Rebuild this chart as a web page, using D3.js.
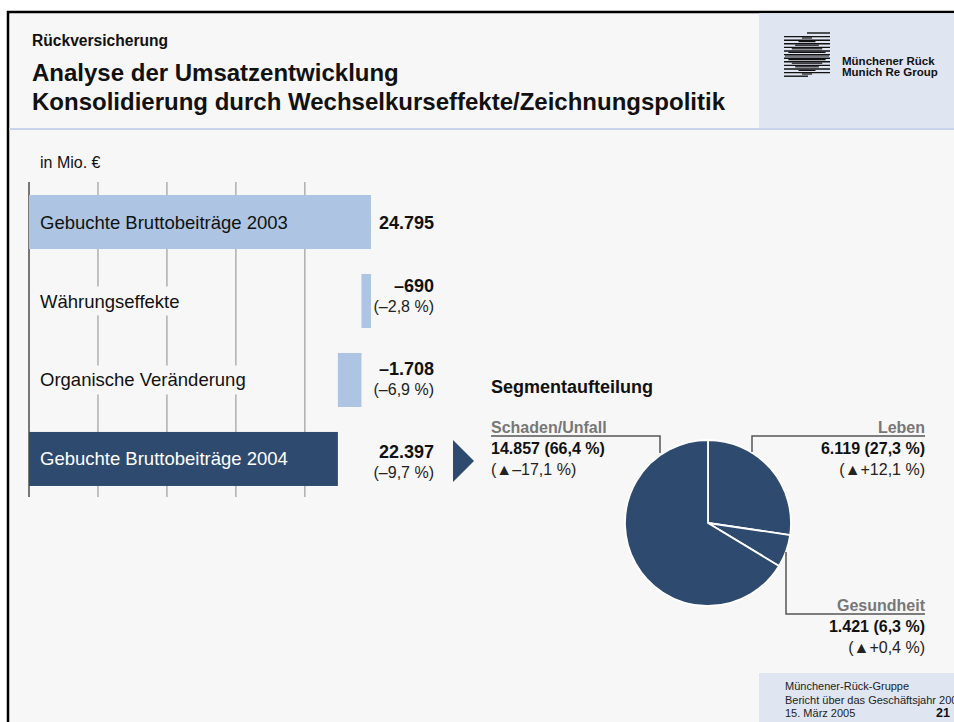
<!DOCTYPE html>
<html>
<head>
<meta charset="utf-8">
<script src="https://cdn.jsdelivr.net/npm/d3@7"></script>
<style>
  html, body { margin: 0; padding: 0; background: #fff; }
  svg { display: block; font-family: "Liberation Sans", Arial, sans-serif; }
</style>
</head>
<body>
<script>
// waterfall data (in Mio. EUR)
var categories = ["Gebuchte Bruttobeiträge 2003", "Währungseffekte", "Organische Veränderung", "Gebuchte Bruttobeiträge 2004"];
var values = [24795, -690, -1708, 22397];
var kinds = ["total", "delta", "delta", "total"];
var pctLabels = [null, "(–2,8 %)", "(–6,9 %)", "(–9,7 %)"];
var gridTicks = [0, 5000, 10000, 15000, 20000];

// segment split of 2004
var segNames = ["Leben", "Gesundheit", "Schaden/Unfall"];
var segValues = [6119, 1421, 14857];
var segShares = ["27,3", "6,3", "66,4"];
var segChanges = ["+12,1", "+0,4", "–17,1"];

var W = 954, H = 722;
var bg = "#f7f7f7", paleBlue = "#dfe6f2", lightBar = "#adc5e2", navy = "#2e4a6f";

var fmt = d3.formatLocale({decimal: ",", thousands: ".", grouping: [3], currency: ["", " €"], minus: "–"}).format(",d");

var svg = d3.select("body").append("svg").attr("width", W).attr("height", H);

// slide frame
svg.append("rect").attr("x", 8).attr("y", 12).attr("width", W + 20).attr("height", H + 20)
    .attr("fill", bg).attr("stroke", "#000").attr("stroke-width", 2.5);
svg.append("rect").attr("x", 759).attr("y", 13.25).attr("width", W - 759).attr("height", 115).attr("fill", paleBlue);
svg.append("line").attr("x1", 9).attr("x2", W).attr("y1", 129).attr("y2", 129)
    .attr("stroke", "#c8d4ea").attr("stroke-width", 2);

// header text
svg.append("text").attr("x", 32).attr("y", 46).attr("font-size", 15.6).attr("font-weight", "bold")
    .attr("fill", "#111").text("Rückversicherung");
svg.append("text").attr("x", 32).attr("y", 81).attr("font-size", 24).attr("font-weight", "bold")
    .attr("fill", "#111").text("Analyse der Umsatzentwicklung");
svg.append("text").attr("x", 32).attr("y", 110).attr("font-size", 24).attr("font-weight", "bold")
    .attr("fill", "#111").text("Konsolidierung durch Wechselkurseffekte/Zeichnungspolitik");

// logo
var logo = svg.append("g");
d3.range(13).forEach(function (i) {
    var y = 33 + i * 3.6;
    var d = 1 - Math.abs(i - 6) / 6.5;
    var x0 = i === 0 ? 807 : 784, x1 = i === 12 ? 808 : 830;
    logo.append("line").attr("x1", x0).attr("x2", x1).attr("y1", y).attr("y2", y)
        .attr("stroke", "#111").attr("stroke-width", 1.4);
    if (i > 0 && i < 12) {
        logo.append("line").attr("x1", 807 - 22 * d).attr("x2", 807 + 22 * d).attr("y1", y + 1.4).attr("y2", y + 1.4)
            .attr("stroke", "#111").attr("stroke-width", 1.2);
    }
});
svg.append("text").attr("x", 842).attr("y", 64.5).attr("font-size", 11.5).attr("font-weight", "bold")
    .attr("fill", "#111").text("Münchener Rück");
svg.append("text").attr("x", 842).attr("y", 76).attr("font-size", 11.5).attr("font-weight", "bold")
    .attr("fill", "#111").text("Munich Re Group");

// ---- waterfall ----
var x = d3.scaleLinear().domain([0, 25000]).range([29, 373.8]);
var y = d3.scaleBand().domain(categories).range([182, 499]).paddingInner(0.316).paddingOuter(0.165);
// value labels of the change rows sit on their own, slightly wider rhythm
var labelY = d3.scaleLinear().domain([1, 3]).range([285, 451.7]);

svg.append("text").attr("x", 40).attr("y", 168).attr("font-size", 16).attr("fill", "#111").text("in Mio. €");

svg.append("g").selectAll("line").data(gridTicks).join("line")
    .attr("x1", function (d) { return x(d); }).attr("x2", function (d) { return x(d); })
    .attr("y1", 182).attr("y2", 497)
    .attr("stroke", function (d) { return d === 0 ? "#777" : "#aaa"; })
    .attr("stroke-width", function (d) { return d === 0 ? 2 : 1.4; });

// running totals for the bridge
var rows = [], level = 0;
values.forEach(function (v, i) {
    var from, to;
    if (kinds[i] === "total") { from = 0; to = v; level = v; }
    else { from = level + v; to = level; level = level + v; }
    rows.push({cat: categories[i], value: v, kind: kinds[i], from: from, to: to, pct: pctLabels[i], idx: i});
});

var labelG = svg.append("g");
var barG = svg.append("g");
var textG = svg.append("g");

barG.selectAll("rect").data(rows).join("rect")
    .attr("x", function (d) { return x(d.from); })
    .attr("width", function (d) { return x(d.to) - x(d.from); })
    .attr("y", function (d) { return y(d.cat); })
    .attr("height", y.bandwidth())
    .attr("fill", function (d) { return d.idx === 3 ? navy : lightBar; });

textG.selectAll("text.cat").data(rows).join("text").attr("class", "cat")
    .attr("x", 40).attr("y", function (d) { return y(d.cat) + y.bandwidth() / 2 + 6.5; })
    .attr("font-size", 18.5)
    .attr("fill", function (d) { return d.idx === 3 ? "#fff" : "#111"; })
    .text(function (d) { return d.cat; })
    .each(function () {
        var b = this.getBBox();
        labelG.append("rect").attr("x", b.x - 3).attr("y", b.y - 4).attr("width", b.width + 6).attr("height", b.height + 8)
            .attr("fill", bg);
    });

function valueCenter(d) {
    return d.pct ? labelY(d.idx) : y(d.cat) + y.bandwidth() / 2;
}

textG.selectAll("text.val").data(rows).join("text").attr("class", "val")
    .attr("x", 434).attr("text-anchor", "end")
    .attr("y", function (d) { return valueCenter(d) + 6.5; })
    .attr("font-size", 18).attr("font-weight", "bold").attr("fill", "#111")
    .text(function (d) { return fmt(d.value); });

textG.selectAll("text.pct").data(rows.filter(function (d) { return d.pct; })).join("text").attr("class", "pct")
    .attr("x", 434).attr("text-anchor", "end")
    .attr("y", function (d) { return valueCenter(d) + 26.5; })
    .attr("font-size", 16).attr("fill", "#222")
    .text(function (d) { return d.pct; });

// arrow towards the segment pie
var cy4 = y(categories[3]) + y.bandwidth() / 2 + 2;
svg.append("path").attr("d", "M453 " + (cy4 - 21) + " L474 " + cy4 + " L453 " + (cy4 + 21) + " Z").attr("fill", navy);

// ---- segment pie ----
var cx = 708, cyP = 523, r = 83;
svg.append("text").attr("x", 491).attr("y", 393).attr("font-size", 18).attr("font-weight", "bold")
    .attr("fill", "#111").text("Segmentaufteilung");

var pie = d3.pie().sort(null).value(function (d) { return d; });
var arc = d3.arc().innerRadius(0).outerRadius(r);
svg.append("g").attr("transform", "translate(" + cx + "," + cyP + ")")
    .selectAll("path").data(pie(segValues)).join("path")
    .attr("d", arc).attr("fill", navy).attr("stroke", "#fff").attr("stroke-width", 1.8);

var leader = svg.append("g").attr("fill", "none").attr("stroke", "#555").attr("stroke-width", 1.5);
leader.append("path").attr("d", "M491 436 H660 V453");
leader.append("path").attr("d", "M925 436 H752 V452");
leader.append("path").attr("d", "M786 552 V614 H925");

function segLabel(i, lx, ly, anchor) {
    var g = svg.append("g").attr("text-anchor", anchor);
    g.append("text").attr("x", lx).attr("y", ly).attr("font-size", 16).attr("font-weight", "bold")
        .attr("fill", "#777").text(segNames[i]);
    g.append("text").attr("x", lx).attr("y", ly + 21).attr("font-size", 16).attr("font-weight", "bold")
        .attr("fill", "#111").text(fmt(segValues[i]) + " (" + segShares[i] + " %)");
    g.append("text").attr("x", lx).attr("y", ly + 42).attr("font-size", 16)
        .attr("fill", "#222").text("(▲" + segChanges[i] + " %)");
}
segLabel(2, 491, 433, "start");
segLabel(0, 925, 433, "end");
segLabel(1, 925, 611, "end");

// footer
svg.append("rect").attr("x", 759).attr("y", 673).attr("width", W - 759).attr("height", H - 673).attr("fill", paleBlue);
var foot = svg.append("g").attr("font-size", 11).attr("fill", "#222");
foot.append("text").attr("x", 785).attr("y", 690).text("Münchener-Rück-Gruppe");
foot.append("text").attr("x", 785).attr("y", 703.5).text("Bericht über das Geschäftsjahr 2004");
foot.append("text").attr("x", 785).attr("y", 717).text("15. März 2005");
svg.append("text").attr("x", 950).attr("y", 717).attr("text-anchor", "end").attr("font-size", 12.5)
    .attr("font-weight", "bold").attr("fill", "#111").text("21");
</script>
</body>
</html>
